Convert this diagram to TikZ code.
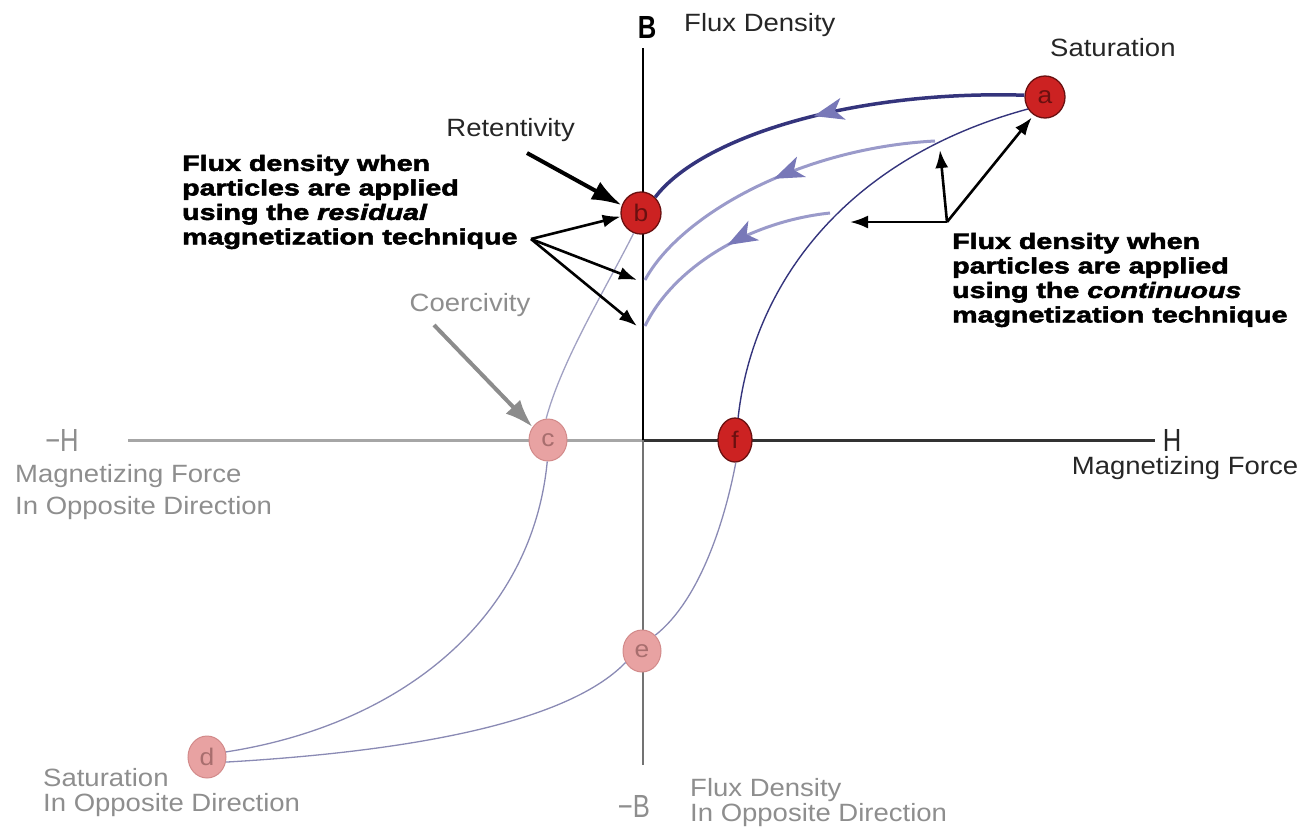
\documentclass[tikz,border=0pt]{standalone}
\usepackage{fontspec}
\setmainfont{Liberation Sans}[FakeStretch=1.1]
\newfontfamily\heavy{Liberation Sans}[FakeStretch=1.3,FakeBold=2.5,UprightFont={* Bold},ItalicFont={* Bold Italic}]
\newfontfamily\cond{Liberation Sans}[FakeStretch=0.8]
\usetikzlibrary{arrows.meta,decorations.markings,shapes.geometric}
\definecolor{navy}{HTML}{34347C}
\definecolor{lav}{HTML}{7878B8}
\definecolor{lightnavy}{HTML}{9A9ACA}
\definecolor{loopgray}{HTML}{8A8AB4}
\definecolor{red1}{HTML}{CC2222}
\definecolor{red2}{HTML}{6A1010}
\definecolor{pink1}{HTML}{E8A2A2}
\definecolor{pink2}{HTML}{D28A8A}
\definecolor{graytext}{HTML}{8E8E8E}
\tikzset{
  redpt/.style={ellipse, fill=red1, draw=red2, line width=1.3pt, minimum width=40pt, minimum height=42pt, inner sep=0pt, text=red2, font=\fontsize{24}{24}\selectfont},
  pinkpt/.style={ellipse, fill=pink1, draw=pink2, line width=1pt, minimum width=38pt, minimum height=42pt, inner sep=0pt, text=pink2!80!black, font=\fontsize{24}{24}\selectfont},
  lbl/.style={font=\fontsize{25}{30}\selectfont, text=black!85, inner sep=0pt},
  glbl/.style={lbl, text=graytext},
  axlbl/.style={font=\cond\fontsize{32}{32}\selectfont, inner sep=0pt},
  heavytext/.style={font=\heavy\fontsize{22}{24.5}\selectfont, align=left, inner sep=0pt},
  note/.style={draw=black, line width=2.6pt, -{Latex[length=18pt,width=13pt]}},
  bignote/.style={draw=black, line width=4pt, -{Latex[length=30pt,width=20pt]}},
  flowarrow/.style={decoration={markings, mark=at position #1 with {\arrow{Stealth[length=30pt,width=22pt,inset=8pt,fill=lav,color=lav]}}}, postaction={decorate}},
  loopline/.style={draw=loopgray, line width=1.3pt},
}
\begin{document}
\begin{tikzpicture}[x=1pt,y=-1pt]
\useasboundingbox (0,0) rectangle (1315,831);
% axes
\coordinate (Btop) at (643,48);
\coordinate (O) at (643,440);
\coordinate (Bbot) at (643,765);
\coordinate (Hleft) at (128,440);
\coordinate (Hright) at (1155,440);
\draw[line width=3pt, draw=black!35] (Hleft) -- (O);
\draw[line width=3pt, draw=black!80] (O) -- (Hright);
\draw[line width=2pt, draw=black] (Btop) -- (O);
\draw[line width=1.5pt, draw=black!55] (O) -- (Bbot);
% points
\node[redpt] (a) at (1045,97) {a};
\node[redpt] (b) at (641,213) {b};
\node[pinkpt] (c) at (548,440) {c};
\node[pinkpt] (d) at (207,757) {d};
\node[pinkpt] (e) at (642,651) {e};
\node[redpt, minimum width=34pt, minimum height=44pt] (f) at (735,440) {f};
% labels
\node[axlbl, font=\cond\bfseries\fontsize{32}{32}\selectfont] (Blbl) at (647,27) {B};
\node[lbl, anchor=west] (fluxlbl) at (684,25) {Flux Density};
\node[lbl, anchor=west] (satlbl) at (1050,48) {Saturation};
\node[lbl, anchor=east] (retlbl) at (575,130) {Retentivity};
\node[glbl] (coerlbl) at (470,305) {Coercivity};
\node[axlbl, text=black!85] (Hlbl) at (1172,440) {H};
\node[lbl] (mflbl) at (1185,468) {Magnetizing Force};
\node[axlbl, text=graytext] (mHlbl) at (62,440) {−H};
\node[glbl, anchor=west] (mfo1) at (15,476) {Magnetizing Force};
\node[glbl, anchor=west] (mfo2) at (15,508) {In Opposite Direction};
\node[glbl, anchor=west] (so1) at (43,778) {Saturation};
\node[glbl, anchor=west] (so2) at (43,805) {In Opposite Direction};
\node[axlbl, text=graytext] (mBlbl) at (634,806) {−B};
\node[glbl, anchor=west] (fdo1) at (690,790) {Flux Density};
\node[glbl, anchor=west] (fdo2) at (690,815) {In Opposite Direction};
\node[heavytext, anchor=west] (restext) at (182,202) {Flux density when\\particles are applied\\using the \textit{residual}\\magnetization technique};
\node[heavytext, anchor=west] (context) at (952,280) {Flux density when\\particles are applied\\using the \textit{continuous}\\magnetization technique};
% hysteresis loop
\draw[loopline, draw=navy, line width=1.4pt] (f.82) .. controls (752,290) and (840,160) .. (a.215);
\draw[loopline, draw=loopgray!80] (b.250) .. controls (605,290) and (562,360) .. (c.95);
\draw[loopline] (c.268) .. controls (532,620) and (400,725) .. (d.15);
\draw[loopline] (d.-15) .. controls (400,752) and (565,725) .. (e.215);
\draw[loopline] (e.50) .. controls (700,600) and (725,520) .. (f.272);
% flux curves with arrows
\coordinate (m2) at (935,141);
\coordinate (m3) at (830,213);
\coordinate (r2) at (645,280);
\coordinate (r3) at (645,326);
\draw[navy, line width=3.5pt, flowarrow=0.54] (a.175) .. controls (850,90) and (700,138) .. (b.48);
\draw[lightnavy, line width=3pt, flowarrow=0.5] (m2) .. controls (800,148) and (680,215) .. (r2);
\draw[lightnavy, line width=3pt, flowarrow=0.48] (m3) .. controls (745,222) and (672,270) .. (r3);
% annotation arrows
\coordinate (rt) at (527,153);
\draw[bignote] (rt) -- (b.158);
\coordinate (v1) at (531,239);
\draw[note] (v1) -- (b.190);
\draw[note] (v1) -- ([xshift=-8pt]r2);
\draw[note] (v1) -- ([xshift=-8pt]r3);
\coordinate (v2) at (947,222);
\coordinate (u2) at (940,150);
\coordinate (l2) at (850,222);
\draw[note] (v2) -- (u2);
\draw[note] (v2) -- (l2);
\draw[note, shorten >=3pt] (v2) -- (a.238);
\coordinate (ct) at (434,325);
\draw[draw=black!45, line width=4pt, -{Latex[length=28pt,width=20pt]}] (ct) -- (c.140);
\end{tikzpicture}
\end{document}
